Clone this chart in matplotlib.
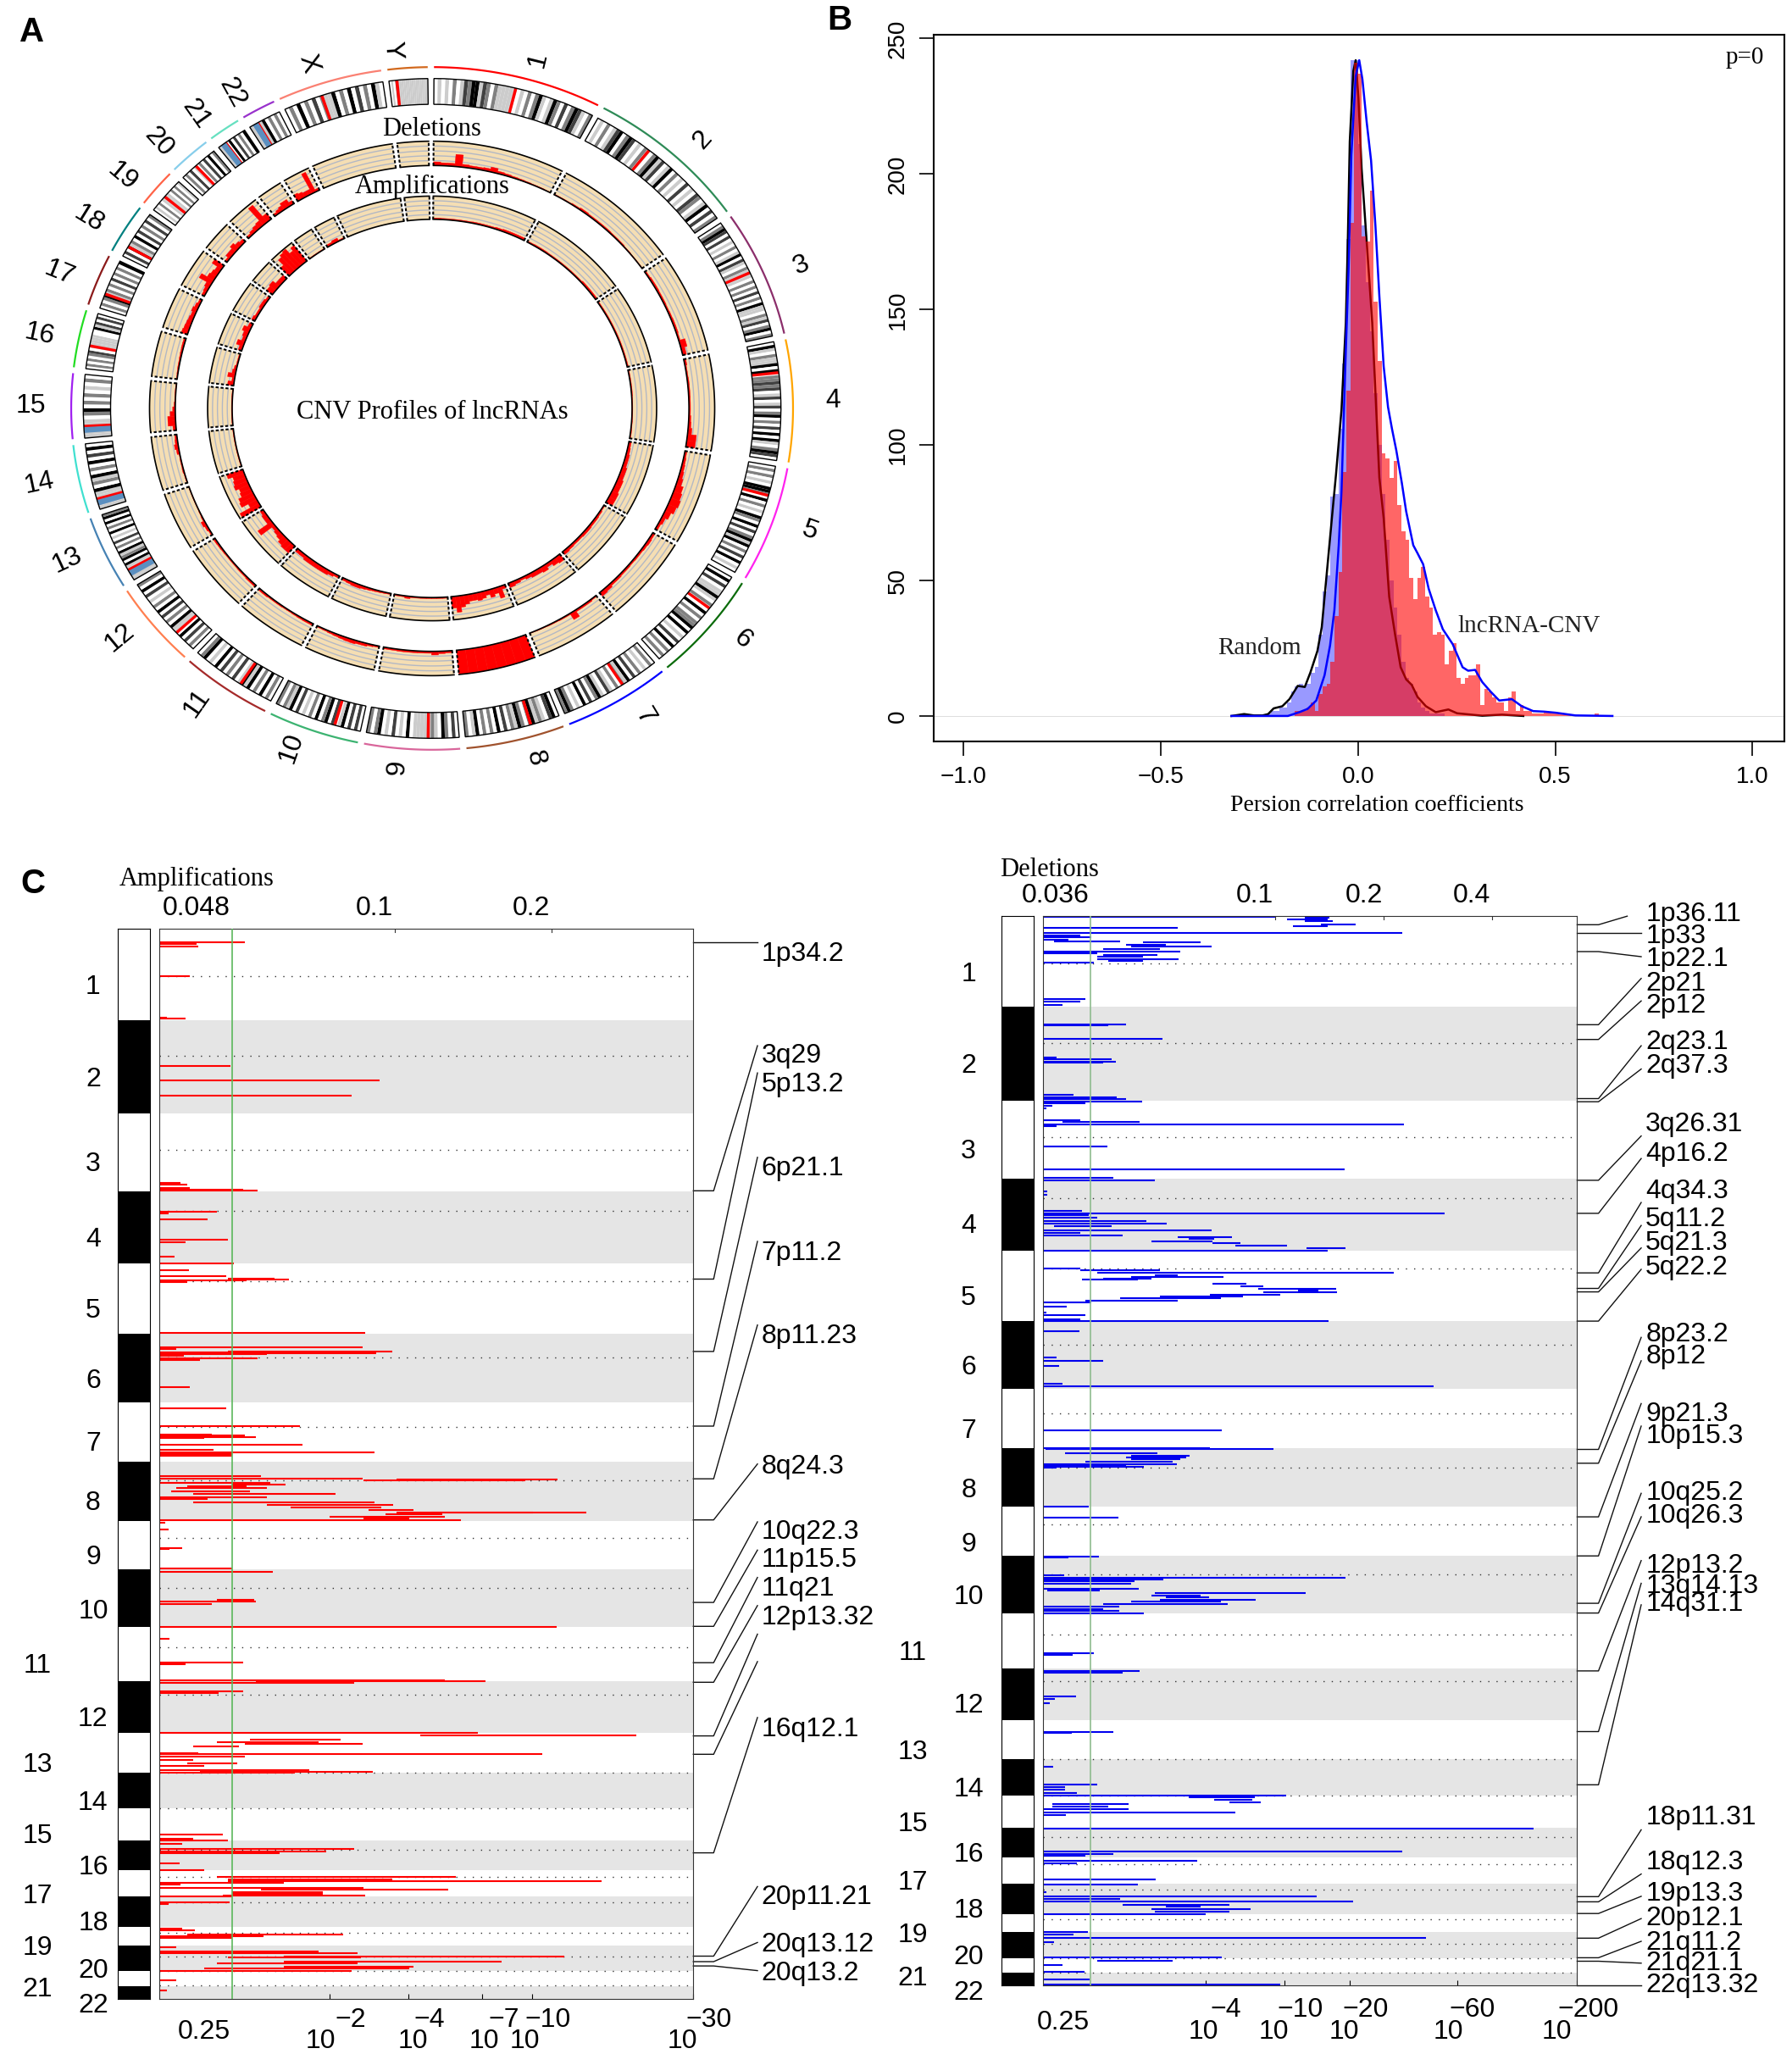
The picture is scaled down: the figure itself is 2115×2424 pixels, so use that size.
import numpy as np
import matplotlib
matplotlib.use('Agg')
import matplotlib.pyplot as plt

plt.rcParams['font.family'] = ['Liberation Sans', 'DejaVu Sans']
SERIF = ['Liberation Serif', 'DejaVu Serif']

W, H = 2115, 2424

# ---- panel A data
chrom_names = ['1', '2', '3', '4', '5', '6', '7', '8', '9', '10', '11', '12', '13', '14', '15',
               '16', '17', '18', '19', '20', '21', '22', 'X', 'Y']
chrom_mb = [249, 243, 198, 191, 181, 171, 159, 146, 141, 135, 135, 133, 115, 107, 102, 90, 81, 78,
            59, 63, 48, 51, 155, 59]
centromere_mb = [125, 93, 91, 50, 48, 60, 60, 45, 47, 40, 53, 36, 18, 17, 19, 37, 24, 17, 27, 27, 13, 14, 60, 12]
stalk_mb = [None, None, None, None, None, None, None, None, None, None, None, None, 12, 11, 13, None,
            None, None, None, None, 9, 10, None, None]
chrom_colors = ['#ff0000', '#2e8b57', '#8b2e6b', '#ffa500', '#ff22ee', '#0b6b0b', '#0000ff', '#a0522d',
                '#d9669b', '#3cb371', '#a52a2a', '#ff7f50', '#4682b4', '#40e0d0', '#a020f0', '#22dd22',
                '#8b1a1a', '#008080', '#ff6347', '#87ceeb', '#66e0c0', '#9932cc', '#fa8072', '#d2691e']
# one digit per band, 0 white .. 4 black
bands = ['0101020132441320211111010202410142030243102',
         '0102013402430102102413014020103010320140302',
         '024303010201403102111020203020411021302402',
         '041021140402232301301302402030404102430',
         '0202010442040201042040302414020304010',
         '040301141021040202240401030402020',
         '0201020304120201301420304010242',
         '043012142024120304020204102',
         '03024012111110401030104202',
         '03030410304204020103041202',
         '0204020414103020304010420',
         '02030401140203040201030402',
         '111111404214020301040204042',
         '1111140214020403040',
         '11111024020201020',
         '020202301111100413030',
         '02024120203020204',
         '0304120403020302',
         '010201111020201',
         '02030102030402',
         '11104030204',
         '1111402020',
         '0204020302114020403020410',
         '0102111111111111111']
band_greys = ['#ffffff', '#cccccc', '#808080', '#404040', '#000000']

del_profile = [[.15, .12, .12, .5, .12, .1, .1, .12, .2, .1, .08, .06, .05, .04, .03, .03, .02],
               [.03, .03, .05, .08, .06, .06, .06, .05, .05, .03, .02, .02],
               [.06, .08, .08, .07, .07, .06, .07, .08, .08, .06, .25, .15],
               [.08, .05, .05, .06, .06, .06, .06, .06, .06, .08, .1, .15, .35, .35],
               [.08, .1, .12, .15, .2, .3, .35, .4, .35, .25, .15, .1],
               [.1, .12, .1, .08, .08, .07, .08, .08, .1, .1, .15, .18],
               [.05, .08, .08, .08, .3, .05, .05, .04, .04, .03, .03, .02],
               [1, 1, 1, 1, 1, 1, 1, 1],
               [.08, .1, .15, .08, .08, .08, .08, .08, .07, .07],
               [.06, .08, .12, .12, .15, .14, .12, .1, .08, .06, .05],
               [.08, .08, .07, .06, .05, .05, .06, .06, .06, .08, .08],
               [.08, .08, .06, .06, .05, .05, .05, .06, .07, .08],
               [.06, .1, .15, .05, .03, .02, .02, .02, .02, .02],
               [.03, .03, .05, .04, .04, .03, .1, .15, .1, .08],
               [.12, .3, .3, .2, .1, .05, .03, .03, .03, .02],
               [.03, .04, .05, .05, .06, .07, .08, .08],
               [.25, .22, .2, .18, .15, .2, .15, .1],
               [.12, .15, .2, .55, .3, .25, .2, .45],
               [.1, .2, .2, .3, .2, .15],
               [.1, .15, .2, .25, .9, .3],
               [.1, .15, .2, .3, .3, .15],
               [.3, .25, .2, .2, .9, .1],
               [0, 0],
               [0, 0]]
amp_profile = [[.06, .05, .05, .05, .05, .06, .06, .06, .08, .1, .1, .1],
               [.05, .06, .06, .05, .05, .05, .05, .05, .05, .08, .08, .08],
               [.05, .05, .05, .05, .05, .05, .05, .05],
               [.04, .04, .04, .03, .03, .03, .03, .04],
               [.1, .12, .15, .15, .2, .2, .25, .25, .3, .3],
               [.05, .08, .1, .1, .12, .12, .1, .1, .12, .15],
               [.3, .25, .15, .25, .2, .2, .15, .1, .15, .2],
               [.15, .5, .25, .35, .2, .3, .35, .3, .3, .4, .5, .7, .5],
               [.05, .05, .05, .05, .05, .05, .05, .1, .05, .05],
               [.05, .06, .07, .08, .1, .12, .15, .15, .12, .1],
               [.1, .15, .2, .2, .2, .2, .2, .15, .15],
               [.4, .4, .35, .25, .2, .15, .7, .2, .2, .15],
               [.9, .4, .7, .65, .5, .45, .6, .55, .5, .7],
               [.03, .03, .03, .03, .03],
               [.03, .03, .03, .03, .03],
               [.25, .1, .3, .15, .1, .05, .05, .05],
               [.15, .3, .15, .2, .3, .15],
               [.15, .1, .1, .15, .15, .1],
               [.3, .35, .2, .2],
               [.5, .8, .9, .95, .7, .85],
               [.03, .03, .03],
               [.1, .15, .05],
               [0, 0],
               [0, 0]]

# ---- panel B data, bins are 0.01 wide
red_first_bin = -16
red_hist = [2, 2, 2, 3, 5, 2, 8, 11, 12, 20, 37, 53, 90, 120, 182, 241,
            237, 177, 175, 194, 153, 131, 97, 95, 88, 94,
            78, 68, 65, 51, 43, 51, 55, 44, 40, 30,
            31, 30, 19, 24, 27, 14, 12, 14, 15, 15,
            19, 4, 10, 9, 7, 5, 5, 2, 7, 9,
            2, 4, 2, 2, 1, 1, 1, 1.5, 1.5, 1,
            1, .5, .5, .5, 0, 0, 0, 0, 0, 0, 1]
blue_first_bin = -23
blue_hist = [1, 2, 2, 3, 3, 5, 9, 11, 12, 11, 12, 16, 18, 30, 46, 52, 81, 82, 106, 130, 176, 242, 242,
             211, 181, 160, 142, 119, 100, 82, 65, 50, 40, 30, 20, 14, 12, 9, 5, 3, 2, 1, 1, 1, 1]
black_x = [-.321, -.289, -.264, -.242, -.228, -.214, -.192, -.174, -.153, -.135, -.121, -.103, -.092, -.078,
           -.067, -.056, -.042, -.031, -.026, -.021, -.012, -.006, .001, .009, .019, .029, .036, .054, .065,
           .079, .094, .108, .122, .136, .151, .172, .197, .229, .251, .315, .365, .419]
black_y = [0, .7, .2, .2, .7, 2.8, 3.6, 6.2, 11.1, 10.7, 16, 24, 32.8, 54.7,
           72, 89, 113, 145, 175, 212, 238, 242, 228, 202, 181, 160, 145, 88, 73,
           44, 30, 18, 13.5, 11.5, 7, 3.6, 1.4, 2.4, 1, .1, .5, 0]
curve_x = [-.321, -.178, -.149, -.128, -.106, -.085, -.071, -.06, -.049, -.042, -.031, -.024, -.017, -.006,
           .003, .011, .022, .033, .044, .054, .065, .076, .086, .097, .111, .122, .14, .151, .165, .179,
           .197, .215, .24, .265, .279, .297, .315, .336, .358, .39, .415, .444, .472, .501, .551, .645]
curve_y = [0, 0, 1.4, 2.6, 5.7, 15, 26, 39, 63, 83, 135, 165, 207, 236,
           242, 235, 219, 205, 181, 155, 129, 114, 106, 98, 86, 75.5, 63, 60, 56, 47,
           39, 32, 26.5, 18, 16.7, 17, 12.5, 9, 5.7, 6.2, 3.6, 1.8, 1.6, 1.2, .2, 0]

# ---- panel C, amplifications. x values are log2(G-score / 0.1), y is genome position top to bottom
AL = -1.51
amp_edges = [0, 107.4, 218, 309.4, 394.6, 477.4, 558.6, 629, 698.2, 755.5, 823.4, 887.1, 948.5, 996,
             1038, 1075.9, 1111, 1141.5, 1177.5, 1199.2, 1229.6, 1247.2, 1262.5]
amp_cent = [55.5, 149.6, 260.7, 332.8, 415.8, 505.3, 587.5, 650.7, 718.1, 777.7, 847.8, 903.7, 995.6, 1037.6,
            1087, 1118.4, 1148.4, 1184.5, 1212.5, 1229.6, 1246.3]
amp_pos = [15.6, 17.4, 20.6, 55.5, 104.6, 106,
           162, 178.5, 196.4,
           299.3, 302, 305.2, 307.5, 308.4,
           333.7, 336, 342.8, 366.3, 369.5, 386.5, 394.3,
           403, 409.9, 412.2, 413.1, 415, 416.8,
           476.9, 493.4, 495.7, 498.5, 499.4, 500.3, 502, 504, 506.3, 508.6, 540.7,
           566, 586.1, 596.7, 598, 599.9, 601, 608.6, 614.1, 617.3, 619.6, 622,
           645.2, 648.4, 649.3, 650.2, 653.5, 655.3, 658, 659.9, 663.6, 666.9, 670.5, 672.9, 676.1, 679.3,
           683, 685.3, 688.1, 689, 690.9, 693.6, 695.5, 697.3,
           701, 708.9, 730.6, 732,
           755, 758.3, 792, 793.8, 796.1, 823.4,
           837.7, 865.8, 867.7,
           886.6, 888, 889.8, 899.1, 901.4,
           948.5, 951.7, 956.8, 959.1, 961.4, 964.6, 973, 973.9, 976.7, 980.4, 985, 987.7, 992.8, 994.2, 995.1,
           1069, 1073.2, 1075.5, 1080, 1085.6, 1088.4, 1090.2, 1102.7, 1110.5,
           1118.4, 1121.6, 1123.5, 1125.3, 1127.2, 1131.3, 1133.6, 1136.4, 1138.3, 1140.1, 1142, 1148.4, 1150.3,
           1179.3, 1181.6, 1186.3, 1189, 1190.9,
           1201.5, 1206.1, 1208.9, 1212.2, 1214, 1218.1, 1220.9, 1224.6, 1226.9, 1229.2, 1240.3, 1252.7]
amp_start = [AL, AL, AL, AL, AL, AL,
             AL, AL, AL,
             AL, AL, AL, AL, AL,
             AL, AL, AL, AL, AL, AL, AL,
             AL, AL, -1.07, -.96, AL, AL,
             AL, AL, AL, -1.07, AL, -.96, AL, AL, AL, AL, AL,
             AL, AL, AL, AL, AL, AL, AL, AL, AL, AL, AL,
             AL, AL, .01, -.2, AL, -1.04, -1.33, -1.40, -1.43, -1.29, AL, AL, -1.29, -.82,
             -.67, -.17, .01, .23, -.06, -.42, -.2, AL,
             AL, AL, AL, AL,
             AL, AL, -1.14, AL, AL, AL,
             AL, AL, AL,
             AL, -.89, AL, AL, AL,
             AL, .16, -.93, -1.14, -.96, -1.29, AL, AL, AL, AL, -1.33, AL, AL, -1.25, AL,
             AL, AL, AL, AL, AL, AL, AL, AL, AL,
             -1.14, -1.07, -1.07, AL, AL, AL, -.86, -1.04, -1.04, -1.10, AL, AL, AL,
             AL, AL, -1.33, AL, AL,
             AL, AL, AL, -.71, -1.07, -.71, -1.14, -.71, -1.22, AL, AL, AL]
amp_end = [-.96, -1.27, -1.26, -1.31, -1.46, -1.34,
           -1.05, -.10, -.28,
           -1.37, -1.33, -1.31, -.97, -.88,
           -1.14, -1.45, -1.2, -1.07, -1.34, -1.41, -1.03,
           -1.32, -1.08, -.77, -.68, -.95, -1.33,
           -.19, -.21, -1.4, -.02, -.38, -.12, -.82, -1.35, -.88, -1.25, -1.31,
           -1.08, -.61, -1.17, -.96, -.89, -1.22, -.59, -1.16, -.13, -1.04, -1.04,
           -.86, -.21, 1.04, .83, -.8, -.7, -.95, -.82, -.93, -.38, -.82, -1.2, -.13, -.01,
           -.09, .12, 1.22, .88, .3, .32, .09, .42,
           -1.47, -1.45, -1.36, -1.44,
           -1.04, -.78, -.9, -.89, -1.17, 1.03,
           -1.44, -.97, -1.34,
           .32, .58, -.26, -.97, -1.13,
           .53, 1.54, -.35, -.49, -.21, -1.0, -1.26, .94, -.96, -1.29, -1.01, -1.22, -.55, -.14, -.64,
           -1.1, -1.29, -1.07, -1.36, -.26, -.44, -.74, -1.38, -1.22,
           .39, -.02, 1.32, -.71, -1.37, -.2, .34, -.46, -.46, -.19, -1.04, -1.06, -1.45,
           -1.36, -1.28, -.33, -.84, -1.04,
           -1.4, -.49, -.24, 1.08, -.22, .68, -.24, .12, .09, -.28, -1.4, -1.46]
amp_bands = ['1p34.2', '3q29', '5p13.2', '6p21.1', '7p11.2', '8p11.23', '8q24.3', '10q22.3', '11p15.5', '11q21',
             '12p13.32', '', '', '16q12.1', '20p11.21', '20q13.12', '20q13.2']
amp_peak = [15.6, 308.9, 413.1, 498.5, 586.6, 648.8, 697.3, 794.7, 822.9, 865.8, 888.9, 952.2, 973.9, 1090.2,
            1212.1, 1218.6, 1223.7]
amp_line_end = [15.6, 137.7, 169.8, 269.4, 368.6, 467.3, 631.3, 699.6, 732.9, 765.2, 798.4, 832.1, 864.5, 930.5,
                1130, 1196, 1229.2]
amp_label_y = [26.6, 146.9, 180.4, 280, 379.6, 477.4, 631.3, 708.9, 742.1, 775.8, 809.1, 0, 0, 941.6,
               1140.1, 1196, 1229.2]
amp_chr_label_y = [66, 174.4, 274.5, 364, 447.5, 530.1, 605, 674.2, 738.4, 802.1, 866.8, 929.6, 984, 1028.4,
                   1067.6, 1105, 1138.3, 1170.6, 1199.2, 1226.9, 1249, 1267.5]

# ---- panel C, deletions
DL = -2.14
del_edges = [0, 107, 217.6, 309.9, 394.8, 477.9, 557.7, 628, 697.3, 755, 822.9, 887.5, 948.9, 995.1,
             1037.6, 1075.9, 1110.5, 1141.9, 1177.5, 1199.2, 1229.6, 1246.7, 1262]
del_cent = [55.6, 149.6, 261.2, 332.4, 415.9, 505.4, 587.1, 650.7, 718, 777.2, 847.8, 902.7, 994.5, 1037.3,
            1087, 1118.4, 1148.4, 1184, 1212.4, 1229.6, 1246.3]
del_pos = [0.5, 2.3, 3.7, 6, 10.1, 12, 13.8, 19.8, 22.5, 25.3, 28, 29.9, 31.3, 33.6, 35.8, 39, 41.8, 43.6, 45.5,
           48.2, 51, 53.3, 55.1, 98.3, 100.6, 104.7,
           128.1, 129, 144.6, 166.7, 169, 172.2, 173, 211.2, 213.5, 215.8, 218.5, 220.4, 223.6, 227.2,
           241, 242.8, 246.1, 247.4, 271.3, 298.9,
           309, 311.3, 324.6, 328.7, 348, 350.7, 353, 355.8, 359.9, 363.1, 365.4, 370.9, 374.1, 376.4,
           379.2, 381, 383.3, 386, 388.8, 391.6, 394.3,
           415.9, 418.2, 420.9, 423.7, 425.5, 427.4, 429.2, 433.8, 436.6, 439.8, 442.1, 443.9, 446.7, 449,
           451.2, 453.5, 455.8, 460.4, 467.8, 471, 475.6, 477.9,
           489.8, 520.5, 524.7, 531.1, 551.3, 554.5,
           606.4,
           627.6, 629, 634, 636.3, 638.7, 641, 644.2, 646.5, 648.8, 650.2, 651.1,
           696.8, 709.3,
           755.5, 756.9, 778, 780.9, 782.7, 785, 788.2, 793.3, 796.1, 798.9, 801.6, 804, 806.3, 809, 811.3,
           815, 817.3, 819.6, 822.4,
           869.5, 871.8, 890.8, 893, 920.3, 923.5, 929, 962.3, 964.2, 1003.9,
           1025, 1027.4, 1030.6, 1034.3,
           1037.6, 1039.9, 1042.7, 1045.4, 1048.2, 1051, 1053.7, 1057.4, 1061.1,
           1076.8, 1103.6, 1106.4, 1109.1, 1115.1, 1117.4, 1136.8, 1142.8,
           1152, 1157.1, 1159.9, 1163.2, 1166.4, 1169.2, 1171.9, 1174.7, 1177.5,
           1198.7, 1202, 1206.1, 1210.7, 1229.2, 1232.9, 1237.5, 1245.8, 1255, 1260.6]
del_start = [DL, .27, .11, .27, .42, .16, DL, DL, DL, DL, DL, -2.04, -1.22, -1.38, -1.33, -1.59, DL, DL, -1.59,
             -1.64, -1.64, -1.54, DL, DL, DL, DL,
             DL, DL, DL, DL, DL, DL, DL, DL, DL, DL, DL, DL, DL, DL,
             DL, -1.96, DL, DL, DL, DL,
             DL, DL, DL, DL, DL, DL, DL, DL, DL, DL, -2.04, DL, DL, DL,
             -.9, -.8, -1.14, -.58, -.37, .29, DL,
             DL, -1.8, -1.64, -1.11, -1.33, -1.59, -1.78, -.58, -.32, -.16, .21, -.11, -.6, -1.06,
             -1.43, -1.75, DL, DL, DL, DL, DL, DL,
             DL, DL, DL, DL, DL, DL,
             DL,
             DL, -2.12, -1.94, -1.33, -1.38, -1.33, -1.75, DL, DL, DL, DL,
             DL, DL,
             DL, DL, DL, DL, DL, DL, DL, DL, -2.1, -1.11, -1.14, -1.01, -1.06, -1.33, -1.59,
             DL, DL, DL, DL,
             DL, DL, DL, DL, DL, DL, DL, DL, DL, DL,
             DL, DL, DL, DL,
             DL, -.8, -.56, -.42, -2.06, -2.06, DL, DL, DL,
             DL, DL, DL, DL, DL, DL, DL, DL,
             DL, DL, DL, DL, -1.41, -1.01, -1.14, -1.11, DL,
             DL, DL, DL, DL, DL, -1.64, DL, DL, DL, DL]
del_end = [0, .5, .48, .53, .74, .48, -.9, 1.17, -1.8, -1.7, -1.91, -1.43, -.69, -1.01, -.59, -1.06, -.88, -1.64, -1.09,
           -1.22, -.89, -1.22, -1.67, -1.75, -1.8, -1.96,
           -1.38, -1.54, -1.04, -2.02, -1.51, -1.47, -1.59, -1.86, -1.46, -1.38, -1.23, -1.75, -2.06, -2.11,
           -1.8, -1.25, 1.19, -2.02, -1.55, .64,
           -1.49, -1.11, -2.1, -2.1, -1.78, 1.56, -1.72, -1.64, -1.19, -1, -1.51, -.59, -1.8, -1.41,
           -.4, -.56, -.58, -.32, .11, .65, .48,
           -1.8, -1.06, 1.09, -.9, -.48, -1.14, -1.27, -.27, -.11, .56, .4, .57, .05, -.3,
           -.5, -.9, -1.7, -1.92, -2.11, -1.75, -1.8, .49,
           -1.81, -2.02, -1.59, -1.99, -1.96, 1.46,
           -.49,
           -.6, -.02, -1.09, -.79, -.82, -.88, -.95, -.91, -1.38, -1.21, -2.02,
           -1.72, -1.45,
           -1.63, -1.91, -1.95, .65, -1.03, -1.3, -1.33, -1.26, -1.62, .28, -.69, -.61, -.18, -.5, -.44,
           -1.44, -1.59, -1.44, -1.21,
           -1.67, -1.87, -1.25, -1.41, -1.84, -2.03, -2.08, -1.49, -1.88, -2.05,
           -1.64, -1.94, -1.94, -1.83,
           .1, -.19, -.21, -.13, -1.35, -1.54, -1.35, -.37, -1.93,
           2.38, 1.17, -1.49, -1.75, -.72, -1.83, -1.1, -1.27,
           -2.11, .38, -1.43, .72, -.42, -.69, -.23, -.42, -.64,
           -1.73, -1.86, 1.39, -2.04, -.49, -.95, -1.96, -1.76, -1.71, .05]
del_bands = ['1p36.11', '1p33', '1p22.1', '2p21', '2p12', '2q23.1', '2q37.3', '3q26.31', '4p16.2', '4q34.3',
             '5q11.2', '5q21.3', '5q22.2', '8p23.2', '8p12', '9p21.3', '10p15.3', '10q25.2', '10q26.3',
             '12p13.2', '13q14.13', '14q31.1', '18p11.31', '18q12.3', '19p13.3', '20p12.1', '21q11.2',
             '21q21.1', '22q13.32']
del_peak = [10.1, 19.8, 41.8, 128.1, 145.5, 215.3, 219, 311.7, 350.7, 421, 439.3, 443.4, 477.9, 629.3, 645.6,
            708.9, 755, 810.9, 822.4, 890.7, 962.3, 1025.1, 1157.1, 1163.2, 1177, 1206.1, 1229.2, 1233.3, 1261.5]
del_line_end = [0, 19.8, 47.8, 73.5, 100, 152.9, 180.4, 259.4, 286, 337.9, 365, 391.6, 416.8, 497.1, 524.7,
                575.2, 601.8, 681.1, 708.8, 760.5, 787.3, 812.7, 1078.2, 1130.4, 1156.7, 1183, 1209.8,
                1235.6, 1261.5]
del_label_y = [-5.5, 20.7, 47.8, 77.2, 103.3, 145.5, 173.5, 242.9, 278.2, 321.8, 354.9, 383.3, 412.2, 490.3,
               516.9, 584.4, 611, 677.9, 704.7, 764, 787.8, 809, 1061.1, 1114.2, 1151.1, 1179.8, 1208.4,
               1233.3, 1258.7]
del_chr_label_y = [65.7, 173.5, 274.5, 363.1, 448, 529.3, 605, 675.1, 738.8, 801.2, 866.7, 929, 983.5, 1027.9,
                   1069, 1104.5, 1138.2, 1170.5, 1199.6, 1226, 1250.4, 1267.5]


def place(left, top, right, bottom, **kw):
    return fig.add_axes([left / W, 1 - bottom / H, (right - left) / W, (bottom - top) / H], **kw)


fig = plt.figure(figsize=(W / 100, H / 100), dpi=100, facecolor='white')

for letter, x, y in [('A', 38, 38), ('B', 991, 24), ('C', 39, 1043)]:
    fig.text(x / W, 1 - y / H, letter, fontsize=29, fontweight='bold', ha='center', va='center')

# ---------------- panel A
cx, cy = 510, 482
ax = place(cx - 460, cy - 435, cx + 460, cy + 435, projection='polar')
ax.set_aspect('auto')
ax.set_theta_zero_location('N')
ax.set_theta_direction(-1)
ax.set_rlim(0, 100)
ax.axis('off')

gap = np.radians(1.0)
per_mb = (2 * np.pi - len(chrom_mb) * gap) / sum(chrom_mb)
starts = []
t = gap * 0.3
for mb in chrom_mb:
    starts.append(t)
    t += mb * per_mb + gap

rings = [(del_profile, 65.9, 72.5), (amp_profile, 51.3, 57.6)]
for i, name in enumerate(chrom_names):
    t0 = starts[i]
    span = chrom_mb[i] * per_mb
    t1 = t0 + span
    arc = np.linspace(t0, t1, 60)

    # colored arc and label
    ax.plot(arc, np.full(60, 92.6), color=chrom_colors[i], lw=1.6, solid_capstyle='butt')
    mid = t0 + span / 2
    rot = 90 - np.degrees(mid) if mid < np.pi else 270 - np.degrees(mid)
    u = 99.5 * np.sin(mid) + 3.4 * np.sign(np.sin(mid))
    v = 99.5 * 0.98 * np.cos(mid)
    ax.text(np.arctan2(u, v) % (2 * np.pi), np.hypot(u, v), name, rotation=rot, ha='center', va='center',
            rotation_mode='anchor', fontsize=23)

    # ideogram
    b = bands[i]
    w = span / len(b)
    for j, c in enumerate(b):
        ax.bar(t0 + j * w, 7.0, width=w, bottom=82.5, align='edge', color=band_greys[int(c)], linewidth=0)
    ax.bar(t0 + centromere_mb[i] * per_mb, 7.0, width=np.radians(0.5), bottom=82.5, color='#ff0000', linewidth=0)
    if stalk_mb[i] is not None:
        ax.bar(t0 + stalk_mb[i] * per_mb, 7.0, width=np.radians(1.0), bottom=82.5, color='#5b8fc0', linewidth=0)
    ax.bar(t0, 7.0, width=span, bottom=82.5, align='edge', facecolor='none', edgecolor='black', linewidth=1.0)

    # two data tracks
    for prof, r0, r1 in rings:
        ax.bar(t0, r1 - r0, width=span, bottom=r0, align='edge', color='#f5deb3', linewidth=0, zorder=0.5)
        for k in range(1, 5):
            ax.plot(arc, np.full(60, r0 + k * (r1 - r0) / 5), color='#b3b8c4', lw=1.0, zorder=0.6)
        p = prof[i]
        w = span / len(p)
        for j, h in enumerate(p):
            if h > 0:
                ax.bar(t0 + j * w, h * (r1 - r0), width=w, bottom=r0, align='edge', color='#ff0000',
                       edgecolor='#ff0000', linewidth=0.3, zorder=1)
        ax.plot(arc, np.full(60, r0), color='black', lw=1.2)
        ax.plot(arc, np.full(60, r1), color='black', lw=1.2)
        for edge in (t0, t1):
            ax.plot([edge, edge], [r0, r1], color='black', lw=1.5, ls=(0, (1.6, 1.2)))

for txt, y in [('Deletions', 152), ('Amplifications', 220), ('CNV Profiles of lncRNAs', 487)]:
    fig.text(cx / W, 1 - y / H, txt, fontsize=22, family=SERIF, ha='center', va='center')

# ---------------- panel B
ax = place(1102, 41, 2106, 875)
ax.set_xlim(-1.076, 1.081)
ax.set_ylim(-9.4, 251.4)
ax.axhline(0, color='#d8d8d8', lw=0.6)
blue_left = (blue_first_bin + np.arange(len(blue_hist))) * 0.01
red_left = (red_first_bin + np.arange(len(red_hist))) * 0.01
ax.bar(blue_left, blue_hist, width=0.01, align='edge', color='#0000ff', alpha=0.4, linewidth=0, zorder=1)
ax.plot(black_x, black_y, color='black', lw=1.8, zorder=2)
ax.bar(red_left, red_hist, width=0.01, align='edge', color='#ff0000', alpha=0.6, linewidth=0, zorder=3)
ax.plot(curve_x, curve_y, color='#0000ff', lw=1.8, zorder=4)
ax.set_xticks([-1, -0.5, 0, 0.5, 1])
ax.set_xticklabels(['\u22121.0', '\u22120.5', '0.0', '0.5', '1.0'], fontsize=20)
ax.set_yticks([0, 50, 100, 150, 200, 250])
ax.set_yticklabels(['0', '50', '100', '150', '200', '250'], rotation=90, va='center', fontsize=20)
ax.tick_params(length=12, width=1.2, pad=9)
for s in ax.spines.values():
    s.set_linewidth(1.5)
ax.text(0.049, -33, 'Persion correlation coefficients', family=SERIF, fontsize=20, ha='center', va='center',
        clip_on=False)
ax.text(0.98, 243, 'p=0', family=SERIF, fontsize=21, ha='center', va='center')
ax.text(-0.249, 25, 'Random', family=SERIF, fontsize=21, color='#222222', ha='center', va='center')
ax.text(0.434, 33, 'lncRNA-CNV', family=SERIF, fontsize=21, color='#222222', ha='center', va='center')


# ---------------- panel C
def gistic(left, right, ideo_left, ideo_right, top, bottom, xlim, edges, cent, pos, start, end, color, green,
           green_col, top_ticks, top_labels, top_x, title, title_x, title_y, qticks, qbases, qexps, qlabels,
           q25_x, base_y, exp_y, q25_y, label_y, bands_txt, peak, line_end, band_y, bend, stop, text_x,
           num_x, num_left_x, stop_first=None):
    ylim = (bottom - top, 0)
    nudge = 3  # text sits a little low in the reference
    ideo = place(ideo_left, top, ideo_right, bottom)
    ideo.set_ylim(ylim)
    ideo.set_xlim(0, 1)
    ideo.set_xticks([])
    ideo.set_yticks([])
    main = place(left, top, right, bottom)
    main.set_xlim(xlim)
    main.set_ylim(ylim)
    for i in range(len(edges) - 1):
        even = (i + 1) % 2 == 0
        ideo.barh(edges[i], 1, height=edges[i + 1] - edges[i], align='edge',
                  color='black' if even else 'white', linewidth=0)
        if even:
            main.axhspan(edges[i], edges[i + 1], color='#e5e5e5', linewidth=0, zorder=0)
    main.hlines(cent, xlim[0], xlim[1], color='#333333', lw=1.0, ls=(0, (1, 6)), zorder=1)
    main.hlines(pos, start, end, color=color, lw=1.5, zorder=2)
    main.axvline(green, color=green_col, lw=1.2, zorder=3)
    main.set_xticks(qticks)
    main.set_xticklabels([])
    main.set_yticks([])
    main.tick_params(axis='x', direction='in', length=4, width=0.8, top=False)
    for t_val in top_ticks:
        main.plot([t_val, t_val], [0, 4], color='#333333', lw=0.8, zorder=4)
    for x, txt in zip(top_x, top_labels):
        main.text(x, -27 + nudge, txt, fontsize=23, ha='center', va='center')
    main.text(title_x, title_y + nudge, title, family=SERIF, fontsize=22, ha='center', va='center')
    main.text(q25_x, q25_y + nudge, '0.25', fontsize=23, ha='center', va='center')
    for bx, ex, txt in zip(qbases, qexps, qlabels):
        main.text(bx, base_y + nudge, '10', fontsize=23, ha='center', va='center')
        main.text(ex, exp_y + nudge, txt, fontsize=23, ha='center', va='center')
    trans = main.get_yaxis_transform()
    for i, y in enumerate(label_y):
        two_col = chrom_names[i] in ('11', '13', '15', '17', '19', '21')
        main.text(num_left_x if two_col else num_x, y + nudge, chrom_names[i], fontsize=23, ha='center', va='center',
                  transform=trans, clip_on=False)
    for i, (p, e) in enumerate(zip(peak, line_end)):
        end_x = stop_first if (i == 0 and stop_first) else stop
        main.plot([1, bend, end_x], [p, p, e], color='#111111', lw=1.0, transform=trans, clip_on=False)
    for txt, y in zip(bands_txt, band_y):
        if txt:
            main.text(text_x, y + nudge, txt, fontsize=23, ha='left', va='center', transform=trans, clip_on=False)
    for s in main.spines.values():
        s.set_color('#333333')
    return main


gistic(187.5, 818.3, 139.3, 176.8, 1096.4, 2358.9, (AL, 1.906), amp_edges, amp_cent, amp_pos, amp_start, amp_end,
       '#ff0000', -1.04, '#5cb85c', [0, 1], ['0.048', '0.1', '0.2'], [-1.27, -.13, .87],
       'Amplifications', -1.27, -62,
       [-.417, .087, .558, .873, 1.906], [-.475, .116, .569, .83, 1.837], [-.283, .221, .696, .975, 2.007],
       ['\u22122', '\u22124', '\u22127', '\u221210', '\u221230'], -1.22, 1309.6, 1284.6, 1298.6,
       amp_chr_label_y, amp_bands, amp_peak, amp_line_end, amp_label_y, 1.038, 1.12, 1.1275, -.123, -.2275)

gistic(1231.3, 1861.4, 1182.4, 1220.4, 1081.2, 2343.2, (DL, 2.785), del_edges, del_cent, del_pos, del_start, del_end,
       '#0000ee', -1.708, '#8fbc8f', [0, 1, 2], ['0.036', '0.1', '0.2', '0.4'], [-2.03, -.19, .82, 1.81],
       'Deletions', -2.08, -58,
       [-.64, .085, .69, 1.68, 2.785], [-.66, -.016, .637, 1.6, 2.6], [-.46, .228, .833, 1.82, 2.89],
       ['\u22124', '\u221210', '\u221220', '\u221260', '\u2212200'], -1.96, 1313.6, 1287.4, 1303,
       del_chr_label_y, del_bands, del_peak, del_line_end, del_label_y, 1.04, 1.12, 1.1283, -.14, -.2449,
       stop_first=1.0938)

fig.savefig('out.png', dpi=100, facecolor='white')
